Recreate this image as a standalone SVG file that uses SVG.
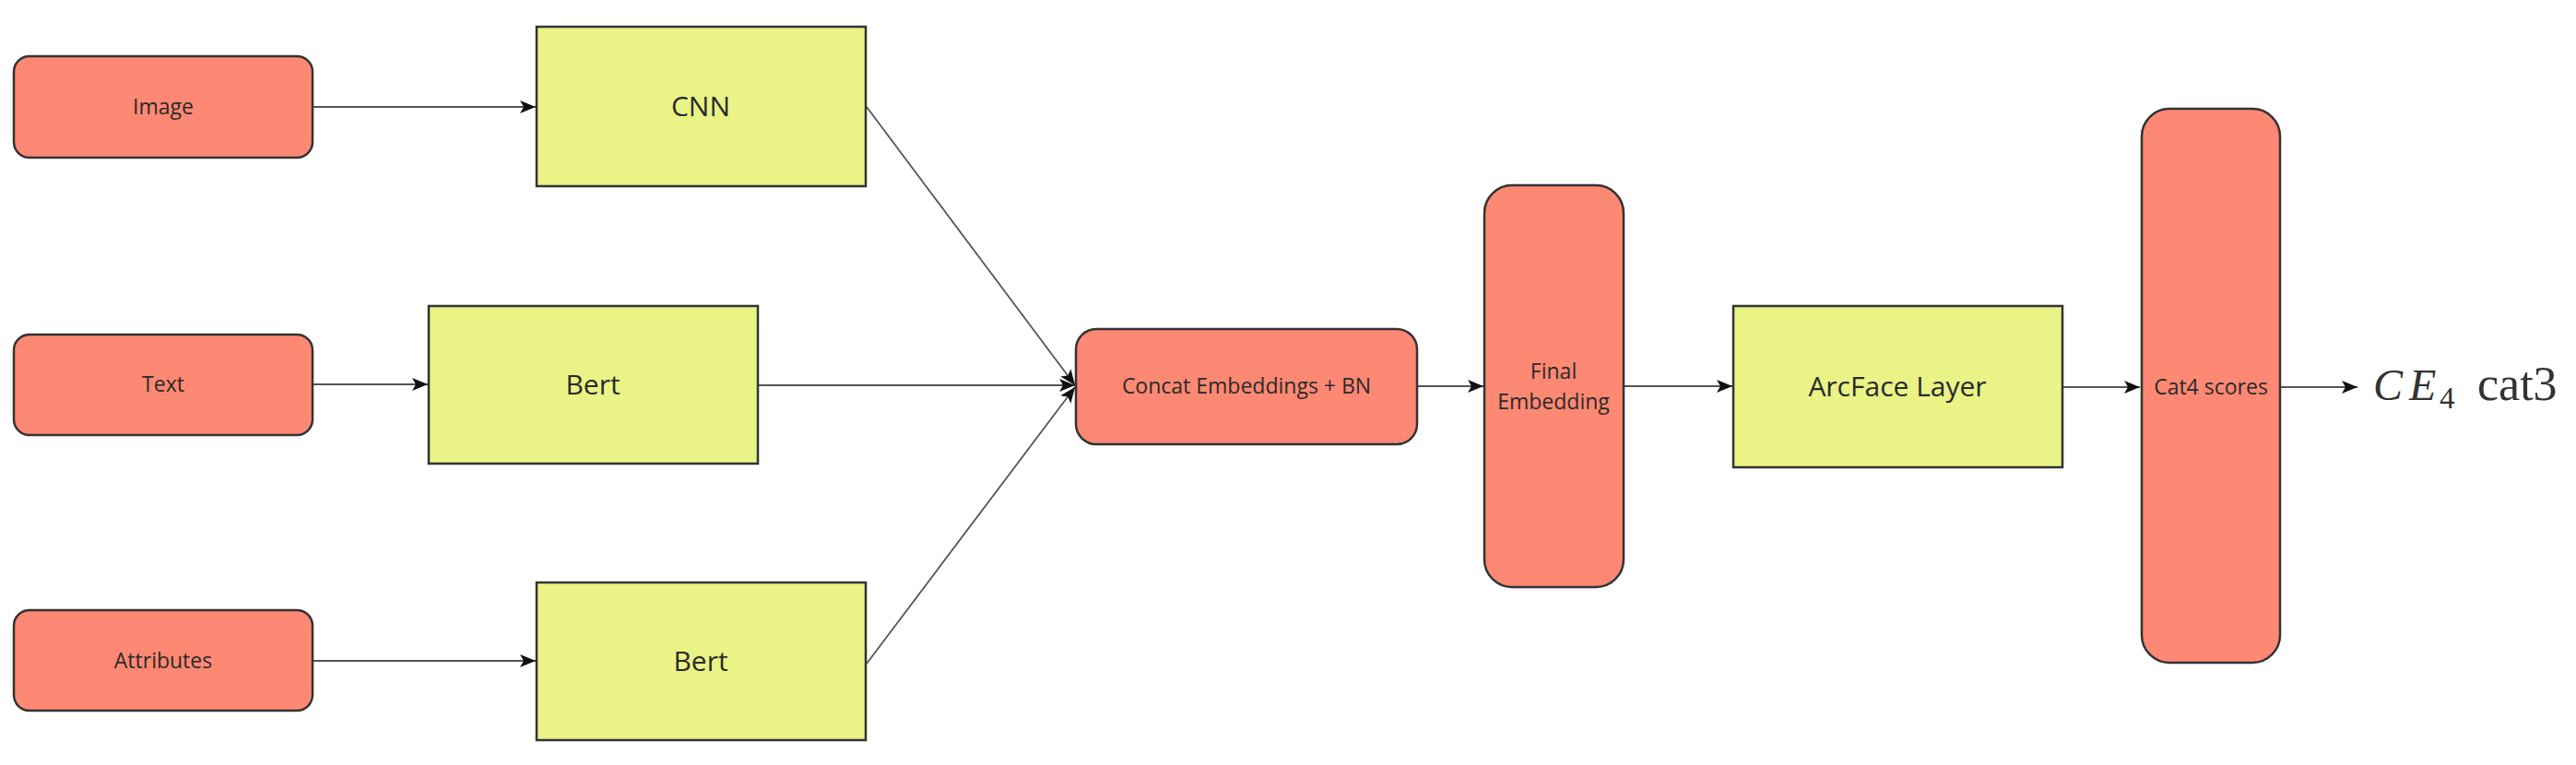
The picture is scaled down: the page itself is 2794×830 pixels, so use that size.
<svg xmlns="http://www.w3.org/2000/svg" width="2794" height="830" viewBox="0 0 2794 830">
  <defs>
    <marker id="arrow" markerUnits="userSpaceOnUse" markerWidth="18" markerHeight="14" refX="17" refY="7" orient="auto">
      <path d="M0,0 L17,7 L0,14 L4,7 z" fill="#111"/>
    </marker>
    <style>
      .salmon { fill: #FD8873; stroke: #333; stroke-width: 2.5; }
      .yellow { fill: #E9F386; stroke: #333; stroke-width: 2.5; }
      .lbl { font-family: "Open Sans", "Noto Sans", sans-serif; fill: #2a2a2a; text-anchor: middle; }
      .sm { font-size: 23px; }
      .lg { font-size: 30px; }
      .conn { stroke: #555; stroke-width: 1.8; fill: none; marker-end: url(#arrow); }
      .math { font-family: "Liberation Serif", "DejaVu Serif", serif; fill: #333; }
    </style>
  </defs>
  <rect width="2794" height="830" fill="#fff"/>

  <g id="connectors">
    <line class="conn" x1="340" y1="116" x2="581" y2="116"/>
    <line class="conn" x1="340" y1="417" x2="464" y2="417"/>
    <line class="conn" x1="340" y1="717" x2="581" y2="717"/>
    <line class="conn" x1="940" y1="116" x2="1166" y2="418"/>
    <line class="conn" x1="823" y1="418" x2="1166" y2="418"/>
    <line class="conn" x1="940" y1="720" x2="1166" y2="420"/>
    <line class="conn" x1="1538" y1="419" x2="1609" y2="419"/>
    <line class="conn" x1="1762" y1="419" x2="1879" y2="419"/>
    <line class="conn" x1="2238" y1="420" x2="2321" y2="420"/>
    <line class="conn" x1="2474" y1="420" x2="2557" y2="420"/>
  </g>

  <g id="node-image">
    <rect class="salmon" x="15" y="61" width="324" height="110" rx="17"/>
    <text class="lbl sm" x="177" y="124">Image</text>
  </g>
  <g id="node-text">
    <rect class="salmon" x="15" y="363" width="324" height="109" rx="17"/>
    <text class="lbl sm" x="177" y="425">Text</text>
  </g>
  <g id="node-attributes">
    <rect class="salmon" x="15" y="662" width="324" height="109" rx="17"/>
    <text class="lbl sm" x="177" y="725">Attributes</text>
  </g>

  <g id="node-cnn">
    <rect class="yellow" x="582" y="29" width="357" height="173"/>
    <text class="lbl lg" x="760" y="126">CNN</text>
  </g>
  <g id="node-bert-text">
    <rect class="yellow" x="465" y="332" width="357" height="171"/>
    <text class="lbl lg" x="643" y="428">Bert</text>
  </g>
  <g id="node-bert-attr">
    <rect class="yellow" x="582" y="632" width="357" height="171"/>
    <text class="lbl lg" x="760" y="728">Bert</text>
  </g>

  <g id="node-concat">
    <rect class="salmon" x="1167" y="357" width="370" height="125" rx="22"/>
    <text class="lbl sm" x="1352" y="427">Concat Embeddings + BN</text>
  </g>
  <g id="node-final">
    <rect class="salmon" x="1610" y="201" width="151" height="436" rx="30"/>
    <text class="lbl sm" x="1685" y="411">Final</text>
    <text class="lbl sm" x="1685" y="444">Embedding</text>
  </g>
  <g id="node-arcface">
    <rect class="yellow" x="1880" y="332" width="357" height="175"/>
    <text class="lbl lg" x="2058" y="430">ArcFace Layer</text>
  </g>
  <g id="node-cat4">
    <rect class="salmon" x="2323" y="118" width="150" height="601" rx="30"/>
    <text class="lbl sm" x="2398" y="428">Cat4 scores</text>
  </g>

  <g id="label-ce">
    <text class="math" font-size="48" y="434"><tspan x="2574" font-style="italic">C</tspan><tspan x="2613" font-style="italic">E</tspan><tspan x="2646" y="443" font-size="33">4</tspan><tspan x="2687" y="434" font-size="52">cat3</tspan></text>
  </g>
</svg>
